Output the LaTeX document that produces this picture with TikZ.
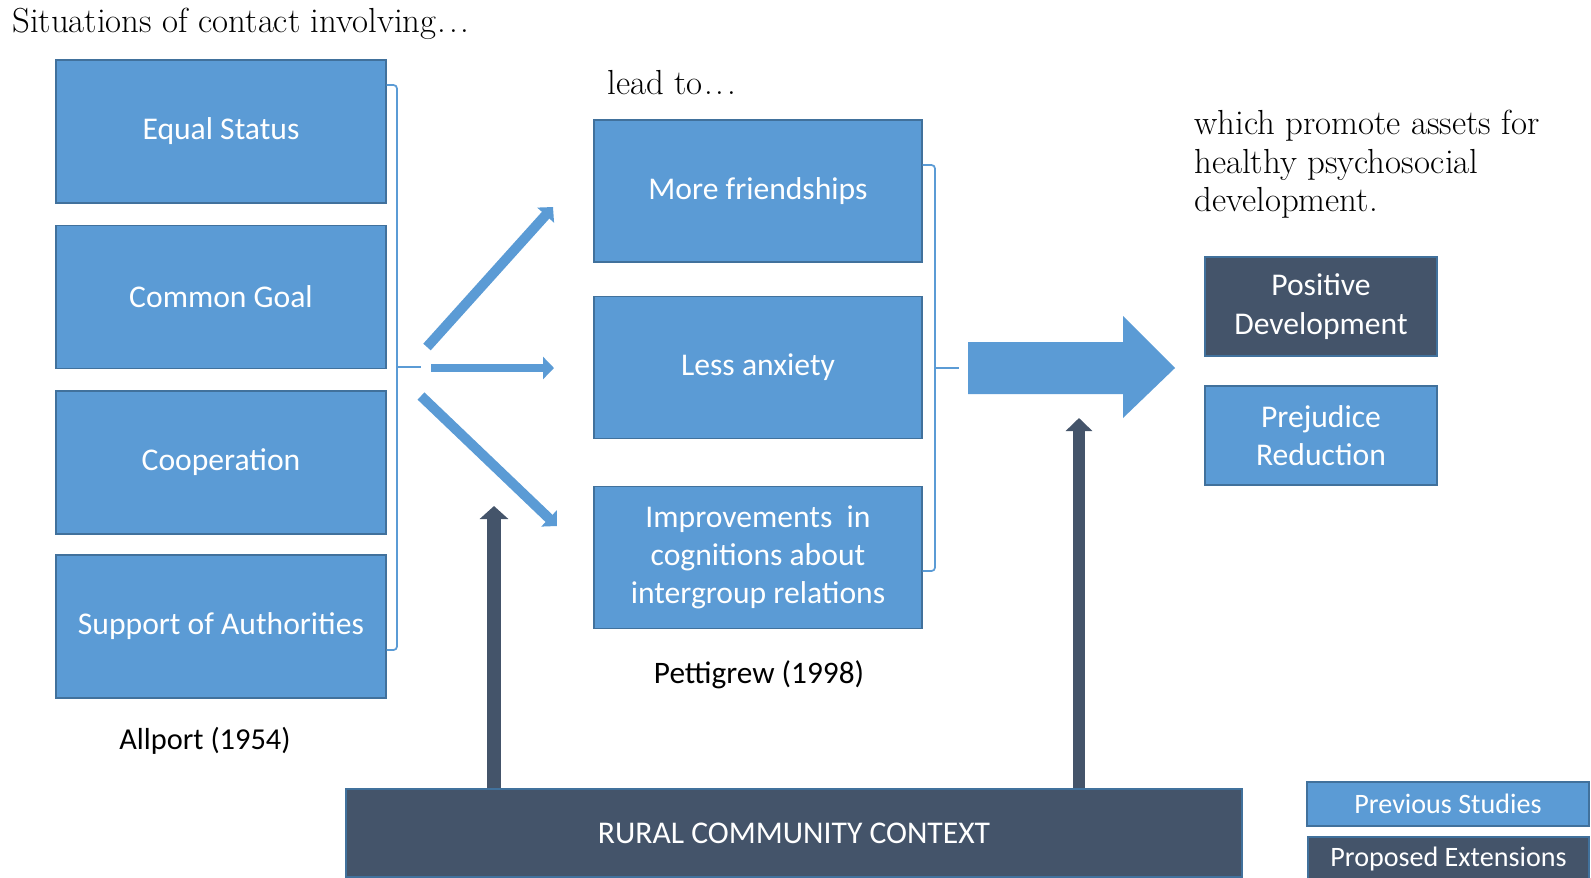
\documentclass[tikz,border=0pt]{standalone}
\usepackage{fontspec}
\newfontfamily\boxfont{Carlito}
\usetikzlibrary{arrows.meta}
\definecolor{stblue}{HTML}{5B9BD5}
\definecolor{stedge}{HTML}{41719C}
\definecolor{stdark}{HTML}{44546A}
\newcommand\wideellipsis{\kern0.04em.\kern0.08em.\kern0.08em.}
\begin{document}
\begin{tikzpicture}[x=0.02cm, y=-0.02cm,
  prevbox/.style={draw=stedge, fill=stblue, line width=0.6pt, text=white,
    font=\boxfont\fontsize{18}{21.8}\selectfont, align=center, inner sep=0pt},
  extbox/.style={prevbox, fill=stdark, draw=stedge},
  serif/.style={font=\fontsize{19.8}{21.8}\selectfont, inner sep=0pt, align=left},
  caption/.style={font=\boxfont\fontsize{17.3}{20}\selectfont, inner sep=0pt},
  bracket/.style={draw=stblue, line width=1pt, rounded corners=2pt},
  thinarrow/.style={draw=stblue, line width=10*0.02cm,
    -{Triangle[length=11*0.02cm, width=22*0.02cm]}},
  darkarrow/.style={draw=stdark, line width=14*0.02cm,
    -{Triangle[length=13*0.02cm, width=28*0.02cm]}}
]
\useasboundingbox (0,0) rectangle (1591,877);

% headings
\node[serif, anchor=base west] (sit) at (12,32) {Situations of contact involving\wideellipsis};
\node[serif, anchor=base west] (lead) at (607,94) {lead to\wideellipsis};
\node[serif, anchor=north west] (promote) at (1194,110)
  {which promote assets for\\healthy psychosocial\\development.};

% Allport conditions
\node[prevbox, minimum width=330*0.02cm, minimum height=143*0.02cm] (equal) at (221,131.5) {Equal Status};
\node[prevbox, minimum width=330*0.02cm, minimum height=143*0.02cm] (goal) at (221,297) {Common Goal};
\node[prevbox, minimum width=330*0.02cm, minimum height=143*0.02cm] (coop) at (221,462.5) {Cooperation};
\node[prevbox, minimum width=330*0.02cm, minimum height=143*0.02cm] (support) at (221,626.5) {Support of Authorities};
\node[caption, anchor=base] (allport) at (205,749) {Allport (1954)};

% Pettigrew outcomes
\node[prevbox, minimum width=328*0.02cm, minimum height=142*0.02cm] (friend) at (758,191) {More friendships};
\node[prevbox, minimum width=328*0.02cm, minimum height=142*0.02cm] (anx) at (758,367.5) {Less anxiety};
\node[prevbox, minimum width=328*0.02cm, minimum height=142*0.02cm] (cogn) at (758,557.5)
  {Improvements\ \ in\\cognitions about\\intergroup relations};
\node[caption, font=\boxfont\fontsize{17.8}{20}\selectfont, anchor=base] (petti) at (759,683) {Pettigrew (1998)};

% assets
\node[extbox, minimum width=232*0.02cm, minimum height=99*0.02cm] (posdev) at (1321,306.5) {Positive\\Development};
\node[prevbox, minimum width=232*0.02cm, minimum height=99*0.02cm] (prej) at (1321,435.5) {Prejudice\\Reduction};

% context
\node[extbox, minimum width=896*0.02cm, minimum height=88*0.02cm] (rural) at (794,833) {RURAL COMMUNITY CONTEXT};

% legend
\node[prevbox, font=\boxfont\fontsize{16}{19}\selectfont, minimum width=282*0.02cm, minimum height=44*0.02cm] (legprev) at (1448,804) {Previous Studies};
\node[extbox, font=\boxfont\fontsize{16}{19}\selectfont, minimum width=281*0.02cm, minimum height=44*0.02cm] (legext) at (1448.5,859) {Proposed Extensions};

% brackets
\coordinate (b1) at (421,367);
\draw[bracket] (equal.north east |- 0,85) -- (397,85) -- (397,650) -- (support.south east |- 0,650);
\draw[bracket] (397,367) -- (b1);
\coordinate (b2) at (959,368);
\draw[bracket] (friend.north east |- 0,165) -- (935,165) -- (935,571) -- (cogn.south east |- 0,571);
\draw[bracket] (935,368) -- (b2);

% fan of arrows
\coordinate (f1) at (427,347);
\coordinate (f2) at (431,368);
\coordinate (f3) at (421,396);
\coordinate (t1) at (553,207);
\coordinate (t2) at (554,368);
\coordinate (t3) at (557,526);
\draw[thinarrow] (f1) -- (t1);
\draw[thinarrow, line width=8*0.02cm] (f2) -- (t2);
\draw[thinarrow] (f3) -- (t3);

% large arrow
\coordinate (bigtip) at (1175,368);
\fill[stblue] (968,342) -- (1123,342) -- (1123,316) -- (bigtip) -- (1123,418)
  -- (1123,394) -- (968,394) -- cycle;

% context arrows
\coordinate (c1) at (494,506);
\coordinate (c2) at (1079,418);
\draw[darkarrow] (rural.north -| c1) -- (c1);
\draw[darkarrow, line width=12*0.02cm, -{Triangle[length=13*0.02cm, width=26*0.02cm]}] (rural.north -| c2) -- (c2);
\end{tikzpicture}
\end{document}
